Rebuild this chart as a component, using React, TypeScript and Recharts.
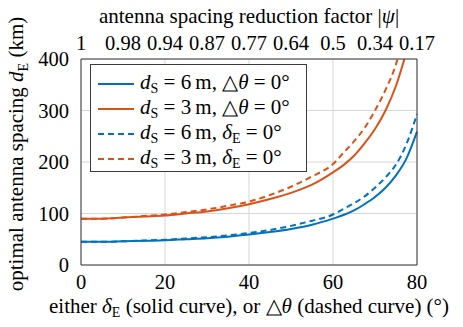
import React from "react";
import { LineChart, Line, XAxis, YAxis, CartesianGrid } from "recharts";

// angle in degrees (delta_E for solid curves, delta-theta for dashed ones)
const angles = [0, 5, 10, 15, 20, 25, 30, 35, 40, 45, 50, 55, 60, 62.5, 65, 67.5, 70, 72.5, 75, 77.5, 80];

// optimal antenna spacing d_E in km
const solid6m = [45, 45, 46, 47, 48, 50, 52, 55, 59, 64, 70, 78, 90, 97, 106, 118, 132, 150, 174, 207, 259];
const solid3m = [90, 90, 92, 94, 96, 100, 104, 110, 118, 128, 140, 156, 180, 194, 212, 236, 264, 300, 348, 414, null];
const dashed6m = [45, 45, 46, 47.5, 49, 51.5, 54, 57.5, 62, 68, 76, 86, 98, 109, 120, 133, 150, 170, 195, 235, 293];
const dashed3m = [90, 90, 92, 95, 98, 103, 108, 115, 123, 136, 152, 172, 196, 218, 240, 266, 300, 340, 390, 470, null];

const bottomTicks = [0, 20, 40, 60, 80];
const topTicks = [0, 10, 20, 30, 40, 50, 60, 70, 80];
const psiLabels = ["1", "0.98", "0.94", "0.87", "0.77", "0.64", "0.5", "0.34", "0.17"];
const yTicks = [0, 100, 200, 300, 400];

const data = angles.map((a, i) => ({
  a,
  solid6m: solid6m[i],
  solid3m: solid3m[i],
  dashed6m: dashed6m[i],
  dashed3m: dashed3m[i],
}));

const BLUE = "#0072BD";
const ORANGE = "#D95319";
const FONT = "Liberation Serif, serif";
const FRAME = "#3a3a3a";
const TEXT_SIZE = 21;
const tickStyle = { fill: "#000", fontSize: 20.5, fontFamily: FONT };

const legendRows = [
  { color: BLUE, dash: false, ds: "6", sym: "△θ", symSub: null },
  { color: ORANGE, dash: false, ds: "3", sym: "△θ", symSub: null },
  { color: BLUE, dash: true, ds: "6", sym: "δ", symSub: "E" },
  { color: ORANGE, dash: true, ds: "3", sym: "δ", symSub: "E" },
];

const subStyle = { fontSize: 14, verticalAlign: "-0.3em" };

function LegendBox() {
  return (
    <div
      style={{
        position: "absolute",
        left: 90,
        top: 64,
        width: 217,
        height: 108,
        border: `1px solid ${FRAME}`,
        background: "#fff",
        fontFamily: FONT,
        fontSize: TEXT_SIZE,
        boxSizing: "border-box",
        paddingTop: 6,
      }}
    >
      {legendRows.map((r, i) => (
        <div key={i} style={{ display: "flex", alignItems: "center", height: 25 }}>
          <svg width={48} height={10} style={{ marginLeft: 7, marginRight: 6 }}>
            <line
              x1={0}
              y1={5}
              x2={36}
              y2={5}
              stroke={r.color}
              strokeWidth={2}
              strokeDasharray={r.dash ? "6 4" : undefined}
            />
          </svg>
          <span style={{ whiteSpace: "nowrap", marginLeft: -12 }}>
            <i>d</i>
            <span style={subStyle}>S</span> = {r.ds}&thinsp;m,{" "}
            {r.symSub ? (
              <>
                <i>{r.sym}</i>
                <span style={subStyle}>{r.symSub}</span>
              </>
            ) : (
              <>
                △<i>θ</i>
              </>
            )}{" "}
            = 0°
          </span>
        </div>
      ))}
    </div>
  );
}

export default function App() {
  return (
    <div style={{ position: "absolute", left: 0, top: 0, width: 463, height: 327, background: "#fff" }}>
      <LineChart
        width={463}
        height={327}
        data={data}
        margin={{ top: 29, right: 6, bottom: 32, left: 41 }}
      >
        <CartesianGrid xAxisId="bottom" yAxisId="left" stroke="#d6d6d6" strokeWidth={1} />
        <XAxis
          xAxisId="bottom"
          dataKey="a"
          type="number"
          domain={[0, 80]}
          ticks={bottomTicks}
          height={30}
          axisLine={{ stroke: FRAME }}
          tickLine={false}
          tickMargin={3}
          tick={tickStyle}
        />
        <XAxis
          xAxisId="top"
          dataKey="a"
          orientation="top"
          type="number"
          domain={[0, 80]}
          ticks={topTicks}
          tickFormatter={(v: number) => psiLabels[topTicks.indexOf(v)]}
          height={30}
          axisLine={{ stroke: FRAME }}
          tickLine={false}
          tickMargin={3}
          interval={0}
          tick={tickStyle}
        />
        <YAxis
          yAxisId="left"
          type="number"
          domain={[0, 400]}
          ticks={yTicks}
          allowDataOverflow
          width={40}
          axisLine={{ stroke: FRAME }}
          tickLine={false}
          tickMargin={6}
          tick={tickStyle}
        />
        <YAxis
          yAxisId="right"
          orientation="right"
          type="number"
          domain={[0, 400]}
          ticks={yTicks}
          width={40}
          axisLine={{ stroke: FRAME }}
          tickLine={false}
          tickMargin={6}
          tick={tickStyle}
        />
        <Line xAxisId="bottom" yAxisId="left" type="monotone" dataKey="solid6m" stroke={BLUE} strokeWidth={2} dot={false} isAnimationActive={false} />
        <Line xAxisId="bottom" yAxisId="left" type="monotone" dataKey="solid3m" stroke={ORANGE} strokeWidth={2} dot={false} isAnimationActive={false} />
        <Line xAxisId="bottom" yAxisId="left" type="monotone" dataKey="dashed6m" stroke={BLUE} strokeWidth={2} strokeDasharray="6 4" dot={false} isAnimationActive={false} />
        <Line xAxisId="bottom" yAxisId="left" type="monotone" dataKey="dashed3m" stroke={ORANGE} strokeWidth={2} strokeDasharray="6 4" dot={false} isAnimationActive={false} />
      </LineChart>

      <div
        style={{
          position: "absolute",
          left: 49,
          width: 400,
          top: 4,
          textAlign: "center",
          fontFamily: FONT,
          fontSize: TEXT_SIZE,
          whiteSpace: "nowrap",
        }}
      >
        antenna spacing reduction factor |<i>ψ</i>|
      </div>

      <div
        style={{
          position: "absolute",
          left: 49,
          width: 400,
          top: 294,
          textAlign: "center",
          fontFamily: FONT,
          fontSize: TEXT_SIZE,
          whiteSpace: "nowrap",
        }}
      >
        either <i>δ</i>
        <span style={subStyle}>E</span> (solid curve), or △<i>θ</i> (dashed curve) (°)
      </div>

      <div
        style={{
          position: "absolute",
          left: 18,
          top: 154,
          transform: "translate(-50%, -50%) rotate(-90deg)",
          fontFamily: FONT,
          fontSize: TEXT_SIZE,
          whiteSpace: "nowrap",
        }}
      >
        optimal antenna spacing <i>d</i>
        <span style={subStyle}>E</span> (km)
      </div>

      <LegendBox />
    </div>
  );
}
